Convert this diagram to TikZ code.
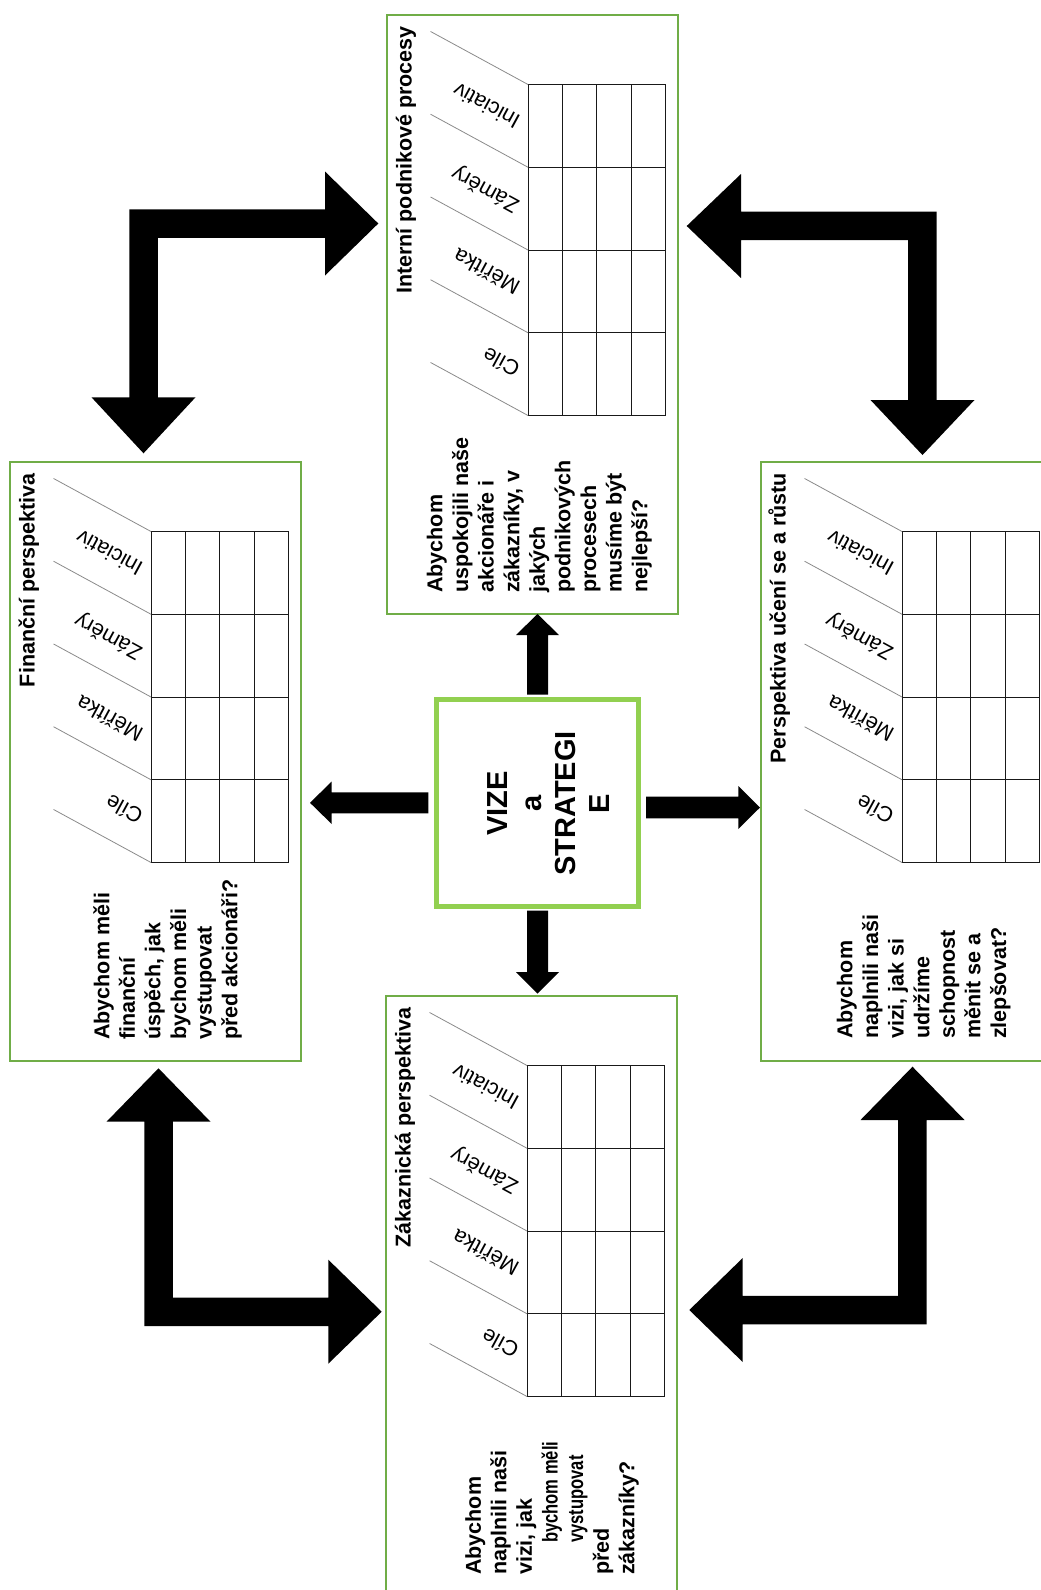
\documentclass[tikz,border=0pt]{standalone}
\usepackage{fontspec}
\usepackage{graphicx}
\setmainfont{Liberation Sans}
\definecolor{boxgreen}{HTML}{70AD47}
\definecolor{vizegreen}{HTML}{92D050}
\definecolor{slantgray}{HTML}{8A8A8A}
\newcommand\bsccard[4]{%
\begin{scope}[shift={(#2,#3)}]
 \node[cardbox] (#1) at (0,0) {};
 \node[cardtitle] (#1-title) at (24.5,11) {#4};
 \draw[gridline] (141,69.5) rectangle (278.5,400.5);
 \foreach \k in {1,2,3} {
   \draw[gridline] (141+34.375*\k,69.5) -- (141+34.375*\k,400.5);
   \draw[gridline] (141,69.5+82.75*\k) -- (278.5,69.5+82.75*\k);}
 \foreach \k in {0,...,4} \draw[slant] (43.6,16.5+82.75*\k) -- (141,69.5+82.75*\k);
 \foreach \t [count=\i from 0] in {Iniciativ,Záměry,Měřítka,Cíle}
   \node[rowlabel] (#1-r\i) at (131,108.5+82.75*\i) {\t};
\end{scope}}
\newcommand\squeezed[1]{\hspace*{32pt}\scalebox{0.77}[1]{#1}}
\begin{document}
\begin{tikzpicture}[x=1pt,y=-1pt,
  cardbox/.style={draw=boxgreen, line width=1.3pt, inner sep=0pt, outer sep=0pt,
     minimum width=291pt, minimum height=599pt, anchor=north west},
  gridline/.style={line width=1pt, draw=black!90},
  slant/.style={draw=slantgray, line width=0.8pt},
  rowlabel/.style={rotate=151.45, anchor=west, inner sep=0pt, font=\fontsize{21.5}{25}\selectfont},
  cardtitle/.style={rotate=90, anchor=base east, inner sep=0pt, font=\fontsize{21.5}{25.6}\selectfont\bfseries},
  question/.style={rotate=90, anchor=north west, inner sep=0pt, align=left, font=\fontsize{21.5}{25.6}\selectfont\bfseries},
  vizebox/.style={draw=vizegreen, line width=5pt, inner sep=0pt, minimum width=202pt, minimum height=207pt},
  vizetext/.style={rotate=90, anchor=north, inner sep=0pt, align=center, font=\fontsize{29}{34}\selectfont\bfseries},
  blockarrow/.style={fill=black}]
\useasboundingbox (0,0) rectangle (1041,1590);
\clip (0,0) rectangle (1041,1590);

% cards
\bsccard{int}{387}{15}{Interní podnikové procesy}
\bsccard{fin}{10}{462}{Finanční perspektiva}
\bsccard{learn}{761}{462}{Perspektiva učení se a růstu}
\bsccard{cust}{386}{996}{Zákaznická perspektiva}

% questions
\node[question] (int-q) at (426.7,593) {Abychom\\uspokojili naše\\akcionáře i\\zákazníky, v\\jakých\\podnikových\\procesech\\musíme být\\nejlepší?};
\node[question] (fin-q) at (93,1040) {Abychom měli\\finanční\\úspěch, jak\\bychom měli\\vystupovat\\před akcionáři?};
\node[question] (learn-q) at (836.7,1039) {Abychom\\naplnili naši\\vizi, jak si\\udržíme\\schopnost\\měnit se a\\zlepšovat?};
\node[question] (cust-q) at (465,1575) {Abychom\\naplnili naši\\vizi, jak\\\squeezed{bychom měli}\\\squeezed{vystupovat}\\před\\zákazníky?};

% centre
\node[vizebox] (vs) at (537.5,803) {};
\node[vizetext] (vs-text) at (487.3,803.5) {VIZE\\a\\STRATEGI\\E};

% straight arrows from the centre
\fill[blockarrow] (527,694.5) -- (527,635) -- (516,635) -- (537.5,614) -- (559,635) -- (548,635) -- (548,694.5) -- cycle;
\fill[blockarrow] (527,910.5) -- (527,972) -- (516,972) -- (537.5,993.5) -- (559,972) -- (548,972) -- (548,910.5) -- cycle;
\fill[blockarrow] (428.3,792.3) -- (331.7,792.3) -- (331.7,781.5) -- (310,802.8) -- (331.7,824) -- (331.7,813.3) -- (428.3,813.3) -- cycle;
\fill[blockarrow] (646,796.7) -- (738.3,796.7) -- (738.3,786) -- (760,807.5) -- (738.3,829) -- (738.3,818.3) -- (646,818.3) -- cycle;

% bent double arrows
\fill[blockarrow] (129.3,209.3) -- (325,209.3) -- (325,171.5) -- (378.3,223.5) -- (325,275.5) -- (325,237.8) -- (157.8,237.8) -- (157.8,397.3) -- (195.5,397.3) -- (143.5,453.3) -- (91.5,397.3) -- (129.3,397.3) -- cycle;
\fill[blockarrow] (936.7,211.7) -- (741,211.7) -- (741,174) -- (686.7,226) -- (741,278) -- (741,240.2) -- (908.2,240.2) -- (908.2,400) -- (870.5,400) -- (922.5,455) -- (974.5,400) -- (936.7,400) -- cycle;
\fill[blockarrow] (144.3,1326) -- (144.3,1121.7) -- (106.5,1121.7) -- (158.5,1068.3) -- (210.5,1121.7) -- (172.8,1121.7) -- (172.8,1297.5) -- (328.3,1297.5) -- (328.3,1259.7) -- (381.7,1311.7) -- (328.3,1363.7) -- (328.3,1326) -- cycle;
\fill[blockarrow] (926.7,1324.3) -- (926.7,1120) -- (964.5,1120) -- (912.5,1066.7) -- (860.5,1120) -- (898.2,1120) -- (898.2,1295.8) -- (742.7,1295.8) -- (742.7,1258) -- (689.3,1310) -- (742.7,1362) -- (742.7,1324.3) -- cycle;
\end{tikzpicture}
\end{document}
